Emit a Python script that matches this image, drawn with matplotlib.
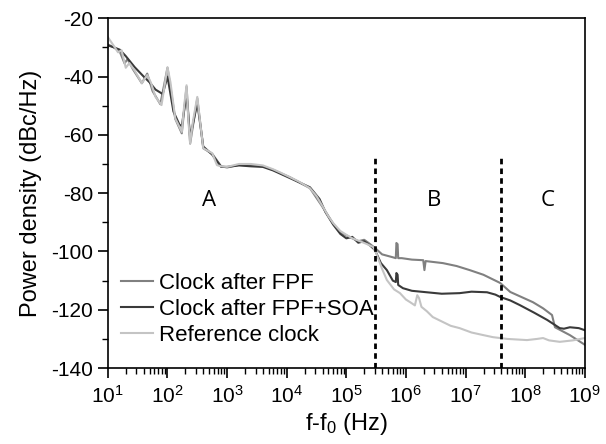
import numpy as np
import matplotlib
matplotlib.use("Agg")
import matplotlib.pyplot as plt
from matplotlib.ticker import LogLocator, FuncFormatter, MultipleLocator

plt.rcParams['font.family'] = ['Liberation Sans', 'DejaVu Sans']
plt.rcParams['mathtext.fontset'] = 'custom'
plt.rcParams['mathtext.rm'] = 'Liberation Sans'
plt.rcParams['mathtext.it'] = 'Liberation Sans'
plt.rcParams['axes.unicode_minus'] = False

# -------------------------------------------------------------------
# Data (log10 of offset frequency, dBc/Hz)
# -------------------------------------------------------------------
fpf_logf = [1.0, 1.1, 1.2, 1.28, 1.33, 1.42, 1.57, 1.66, 1.75, 1.88, 2.0, 2.13,
            2.24, 2.32, 2.38, 2.5, 2.6, 2.75, 2.9, 3.0, 3.2, 3.4, 3.6, 3.77,
            4.05, 4.39, 4.61, 4.78, 4.9, 5.0, 5.1, 5.2, 5.3, 5.4, 5.48, 5.6,
            5.78, 5.83, 5.84, 5.86, 5.87, 5.93, 6.1, 6.29, 6.31, 6.33, 6.62,
            6.85, 7.07, 7.3, 7.58, 7.75, 8.13, 8.3, 8.45, 8.5, 8.75, 9.0]
fpf_db = [-29, -30, -31.5, -35.5, -34, -37.5, -42.3, -39, -45, -49.5, -37, -54.5,
          -59.5, -43.5, -63, -47.5, -64.6, -66.5, -70.8, -71.2, -70.3, -70.5, -70.8, -72,
          -74.5, -78.3, -85, -90.5, -93.5, -94.5, -95.5, -96.5, -96, -97.5, -98.8, -101,
          -102, -102.3, -97.1, -97.5, -102.3, -102.3, -102.8, -103, -106.4, -103.3, -104,
          -105, -106.4, -108, -110.8, -113.9, -117.4, -119.5, -121.8, -126, -128.7, -132]

soa_logf = [1.0, 1.1, 1.2, 1.3, 1.45, 1.6, 1.7, 1.8, 1.92, 2.0, 2.1, 2.2,
            2.24, 2.32, 2.38, 2.5, 2.6, 2.75, 2.9, 3.0, 3.2, 3.4, 3.6, 3.77,
            4.05, 4.39, 4.55, 4.65, 4.78, 4.9, 5.0, 5.1, 5.2, 5.3, 5.4, 5.48,
            5.58, 5.68, 5.78, 5.83, 5.84, 5.86, 5.87, 5.95, 6.1, 6.35, 6.6, 6.9,
            7.1, 7.36, 7.5, 7.58, 7.75, 7.91, 8.15, 8.37, 8.58, 8.65, 8.75, 8.9, 9.0]
soa_db = [-29.3, -30, -30.8, -33, -36.8, -40, -42, -44.5, -46, -40, -52, -56.5,
          -57, -46, -61, -49, -64, -66.8, -71, -71, -70.5, -70.8, -71, -72.2,
          -74.8, -78, -82, -86.5, -90.8, -94, -95.5, -95, -97, -96.5, -98, -99.5,
          -104, -106.4, -110, -110.5, -107.4, -108, -111.5, -112.6, -113.5, -114, -114.5, -114.3,
          -113.8, -114, -114.8, -115.6, -116.8, -118.4, -121, -123.5, -126.3, -126.5, -126, -126.3, -127]

ref_logf = [1.0, 1.1, 1.17, 1.23, 1.3, 1.36, 1.45, 1.57, 1.66, 1.72, 1.8, 1.9,
            1.96, 2.0, 2.05, 2.13, 2.24, 2.28, 2.32, 2.35, 2.38, 2.43, 2.5, 2.55,
            2.6, 2.75, 2.83, 2.9, 3.0, 3.2, 3.4, 3.6, 3.77, 3.9, 4.05, 4.2,
            4.39, 4.5, 4.61, 4.7, 4.78, 4.9, 5.01, 5.1, 5.23, 5.35, 5.45, 5.5,
            5.6, 5.68, 5.8, 5.9, 6.0, 6.07, 6.15, 6.19, 6.22, 6.26, 6.35, 6.45,
            6.6, 6.75, 6.9, 7.1, 7.3, 7.46, 7.7, 8.03, 8.2, 8.3, 8.4, 8.58, 8.8, 9.0]
ref_db = [-26.5, -29.5, -31.7, -31, -37, -35.4, -38, -42.3, -39.5, -42, -47, -49.8,
          -42, -36.8, -42, -54.3, -59, -50, -43, -55, -62.9, -55, -47, -56,
          -64.6, -66.3, -70.4, -70.8, -71, -70, -70, -70.5, -71.8, -73, -74.5, -76,
          -78.3, -81, -84.8, -88, -90.3, -93, -94.4, -95.5, -96.5, -97.5, -98.5, -100.5,
          -106, -109.8, -113, -114.3, -116.5, -117.4, -118.5, -115, -116, -119, -120.5, -122.5,
          -124, -125.5, -126.3, -127.8, -128.7, -129.4, -130, -130.4, -130, -129.7, -130.5, -131, -130.5, -129.7]

region_bounds = [3e5, 4e7]
region_labels = ['A', 'B', 'C']
region_label_x = [5e2, 3e6, 2.4e8]

# -------------------------------------------------------------------
# Plot
# -------------------------------------------------------------------
fig = plt.figure(figsize=(6.06, 4.44), dpi=100)
ax = fig.add_axes([0.178, 0.171, 0.787, 0.788])

ax.plot(10 ** np.array(fpf_logf), fpf_db, color='#808080', lw=1.5, label='Clock after FPF')
ax.plot(10 ** np.array(soa_logf), soa_db, color='#3a3a3a', lw=1.5, label='Clock after FPF+SOA')
ax.plot(10 ** np.array(ref_logf), ref_db, color='#c4c4c4', lw=1.5, label='Reference clock')

ax.vlines(region_bounds, -140, -68, colors='black', linestyles=(0, (2, 1.5)), lw=2)
for x, lab in zip(region_label_x, region_labels):
    ax.text(x, -82.5, lab, fontsize=16, family=['Open Sans', 'DejaVu Sans'],
            ha='center', va='center')

ax.set_xscale('log')
ax.set_xlim(10, 1e9)
ax.set_ylim(-140, -20)
ax.yaxis.set_major_locator(MultipleLocator(20))
ax.yaxis.set_minor_locator(MultipleLocator(10))
ax.xaxis.set_major_locator(LogLocator(base=10, numticks=20))
ax.xaxis.set_minor_locator(LogLocator(base=10, subs=np.arange(2, 10), numticks=20))
ax.xaxis.set_major_formatter(FuncFormatter(lambda v, p: r'$10^{%d}$' % round(np.log10(v))))
ax.yaxis.set_major_formatter(FuncFormatter(lambda v, p: '%d' % v))

ax.tick_params(which='major', direction='out', length=7, width=1.2, labelsize=15)
ax.tick_params(which='minor', direction='out', length=4, width=1)
ax.tick_params(axis='x', which='major', pad=5)
for s in ax.spines.values():
    s.set_linewidth(1.2)

ax.set_xlabel('f-f$_0$ (Hz)', fontsize=17, labelpad=3)
ax.set_ylabel('Power density (dBc/Hz)', fontsize=17, labelpad=7)

ax.legend(loc='upper left', bbox_to_anchor=(0.0, 0.31), frameon=False, fontsize=16,
          handlelength=1.45, handletextpad=0.25, labelspacing=0.22, borderaxespad=0.2)

fig.savefig('out.png', dpi=100)
